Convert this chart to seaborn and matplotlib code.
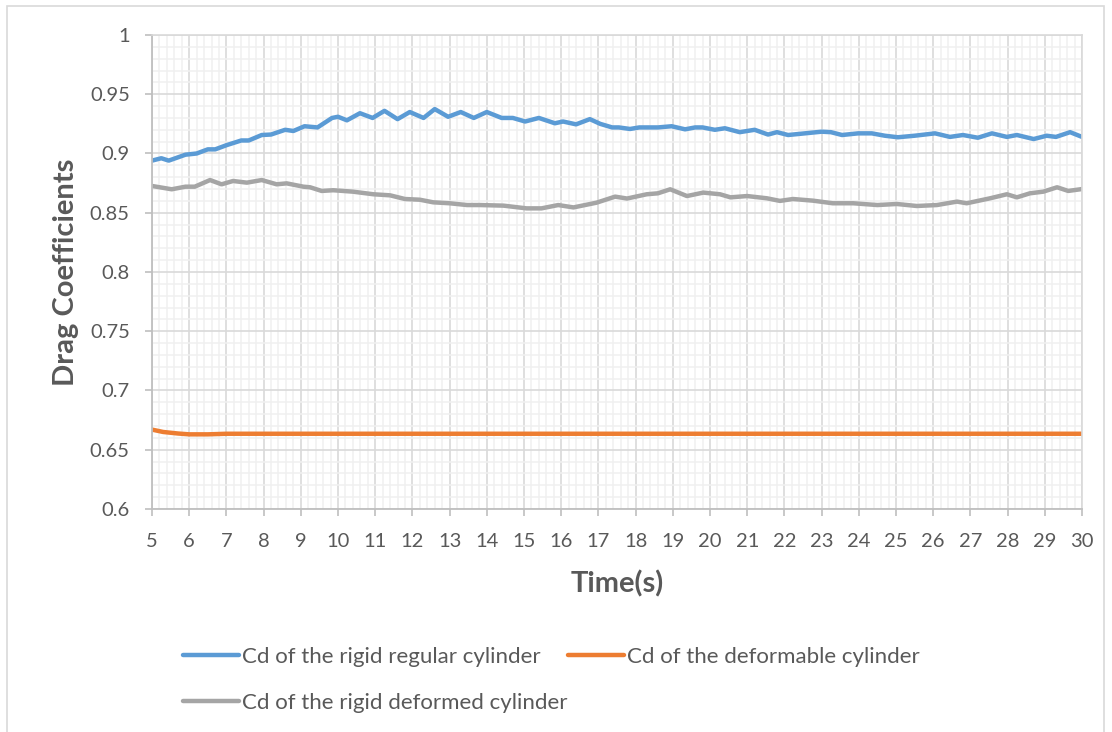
import numpy as np
import pandas as pd
import matplotlib
matplotlib.use("Agg")
import matplotlib.pyplot as plt
from matplotlib.ticker import MultipleLocator, FuncFormatter
from matplotlib.patches import Rectangle
import seaborn as sns

# ---------------- data ----------------
rigid_regular_t = [5.0, 5.25, 5.45, 5.9, 6.2, 6.5, 6.7, 7.0, 7.4, 7.6, 7.95, 8.2, 8.58, 8.8,
                   9.1, 9.45, 9.84, 10.0, 10.24, 10.59, 10.93, 11.25, 11.6, 11.93, 12.3, 12.6,
                   12.96, 13.3, 13.65, 14.0, 14.4, 14.7, 15.03, 15.4, 15.83, 16.05, 16.4, 16.77,
                   17.05, 17.37, 17.55, 17.85, 18.1, 18.6, 18.97, 19.33, 19.6, 19.8, 20.13, 20.4,
                   20.8, 21.2, 21.56, 21.8, 22.1, 22.55, 23.0, 23.25, 23.55, 23.98, 24.35, 24.7,
                   25.05, 25.5, 26.05, 26.45, 26.8, 27.2, 27.58, 27.98, 28.25, 28.7, 29.05, 29.3,
                   29.68, 30.0]
rigid_regular_cd = [0.894, 0.896, 0.894, 0.899, 0.900, 0.9035, 0.9035, 0.907, 0.911, 0.911,
                    0.9156, 0.916, 0.920, 0.919, 0.923, 0.922, 0.930, 0.931, 0.928, 0.934,
                    0.930, 0.936, 0.929, 0.935, 0.930, 0.9375, 0.931, 0.935, 0.930, 0.935,
                    0.930, 0.930, 0.927, 0.930, 0.9255, 0.927, 0.9246, 0.929, 0.925, 0.922,
                    0.922, 0.9207, 0.922, 0.922, 0.923, 0.9204, 0.922, 0.922, 0.920, 0.9213,
                    0.918, 0.920, 0.916, 0.918, 0.9156, 0.917, 0.9184, 0.918, 0.9156, 0.917,
                    0.917, 0.915, 0.9137, 0.915, 0.917, 0.914, 0.9156, 0.9133, 0.917, 0.914,
                    0.9156, 0.9122, 0.915, 0.914, 0.918, 0.914]

deformable_t = [5.0, 5.3, 5.7, 6.0, 6.5, 7.0, 8.0, 10.0, 15.0, 20.0, 25.0, 30.0]
deformable_cd = [0.667, 0.665, 0.6637, 0.663, 0.663, 0.6635, 0.6635, 0.6635, 0.6635,
                 0.6635, 0.6635, 0.6635]

rigid_deformed_t = [5.0, 5.53, 5.9, 6.15, 6.56, 6.87, 7.18, 7.55, 7.95, 8.35, 8.62, 9.07, 9.25,
                    9.56, 9.87, 10.4, 10.95, 11.4, 11.8, 12.2, 12.56, 13.0, 13.47, 13.82, 14.45,
                    15.07, 15.47, 15.92, 16.33, 16.95, 17.45, 17.77, 18.3, 18.6, 18.93, 19.38,
                    19.82, 20.27, 20.55, 21.0, 21.53, 21.88, 22.23, 22.77, 23.3, 23.85, 24.5,
                    25.02, 25.56, 26.1, 26.64, 26.9, 27.53, 27.98, 28.25, 28.6, 28.96, 29.33,
                    29.63, 30.0]
rigid_deformed_cd = [0.8726, 0.8698, 0.872, 0.872, 0.8776, 0.874, 0.8768, 0.8754, 0.8776,
                     0.874, 0.8748, 0.872, 0.8715, 0.8684, 0.869, 0.8678, 0.8656, 0.8647,
                     0.8616, 0.861, 0.8588, 0.858, 0.8565, 0.8565, 0.856, 0.8537, 0.8537,
                     0.8565, 0.8545, 0.8585, 0.8636, 0.862, 0.8656, 0.8664, 0.8698, 0.8641,
                     0.867, 0.8656, 0.863, 0.8641, 0.8622, 0.860, 0.8616, 0.8602, 0.858,
                     0.858, 0.8565, 0.8574, 0.8557, 0.8565, 0.8594, 0.858, 0.8622, 0.8656,
                     0.863, 0.8664, 0.8678, 0.8715, 0.8684, 0.870]

series_names = ["Cd of the rigid regular cylinder",
                "Cd of the deformable cylinder",
                "Cd of the rigid deformed cylinder"]
series_colors = ["#5B9BD5", "#ED7D31", "#A5A5A5"]

x_label = "Time(s)"
y_label = "Drag Coefficients"

# ---------------- build table ----------------
frames = []
for name, t, cd in zip(series_names,
                       [rigid_regular_t, deformable_t, rigid_deformed_t],
                       [rigid_regular_cd, deformable_cd, rigid_deformed_cd]):
    frames.append(pd.DataFrame({"t": t, "cd": cd, "series": name}))
df = pd.concat(frames, ignore_index=True)

# ---------------- style ----------------
sns.set_theme(style="white")
plt.rcParams["font.family"] = ["Lato", "DejaVu Sans"]
text_color = "#595959"

fig = plt.figure(figsize=(11.12, 7.32), dpi=100)
ax = fig.add_axes([152 / 1112, 1 - 509 / 732, (1082 - 152) / 1112, (509 - 35) / 732])

sns.lineplot(data=df, x="t", y="cd", hue="series", hue_order=series_names,
             palette=series_colors, linewidth=3.2, ax=ax, sort=True,
             solid_capstyle="round", solid_joinstyle="round", legend=True)

ax.set_xlim(5, 30)
ax.set_ylim(0.6, 1.0)
ax.xaxis.set_major_locator(MultipleLocator(1))
ax.xaxis.set_minor_locator(MultipleLocator(0.2))
ax.yaxis.set_major_locator(MultipleLocator(0.05))
ax.yaxis.set_minor_locator(MultipleLocator(0.01))
ax.yaxis.set_major_formatter(FuncFormatter(lambda v, p: f"{v:.2f}".rstrip("0").rstrip(".")))

ax.grid(which="major", color="#d9d9d9", linewidth=1.2)
ax.grid(which="minor", color="#f0f0f0", linewidth=1.1)
ax.set_axisbelow(True)

for side in ["top", "right"]:
    ax.spines[side].set_color("#d9d9d9")
    ax.spines[side].set_linewidth(1.2)
for side in ["left", "bottom"]:
    ax.spines[side].set_color("#bfbfbf")
    ax.spines[side].set_linewidth(1.3)

ax.tick_params(axis="both", which="major", direction="out", length=5, width=1.2,
               color="#bfbfbf", labelsize=14.5, labelcolor=text_color)
ax.tick_params(axis="y", which="major", pad=11, left=True)
ax.tick_params(axis="x", which="major", pad=12, bottom=True)
ax.tick_params(which="minor", length=0)

ax.set_xlabel(x_label, fontsize=21, fontweight="bold", color=text_color, labelpad=15)
ax.set_ylabel(y_label, fontsize=21, fontweight="bold", color=text_color, labelpad=8)

# legend: row-major order (blue, orange / gray)
handles, labels = ax.get_legend_handles_labels()
lab_to_h = dict(zip(labels, handles))
order = [series_names[0], series_names[2], series_names[1]]
ax.legend([lab_to_h[l] for l in order], order, ncol=2, frameon=False,
          loc="upper left", bbox_to_anchor=(183 / 1112, 1 - 647 / 732),
          bbox_transform=fig.transFigure, fontsize=16, labelcolor=text_color,
          handlelength=2.5, handletextpad=0.14, columnspacing=0.05,
          labelspacing=1.16, borderpad=0, borderaxespad=0)

# chart area outline
fig.patches.append(Rectangle((7 / 1112, -0.05), (1104 - 7) / 1112, 1.05 - 6 / 732,
                             transform=fig.transFigure, fill=False,
                             edgecolor="#d9d9d9", linewidth=1.2))

fig.savefig("out.png", dpi=100)
